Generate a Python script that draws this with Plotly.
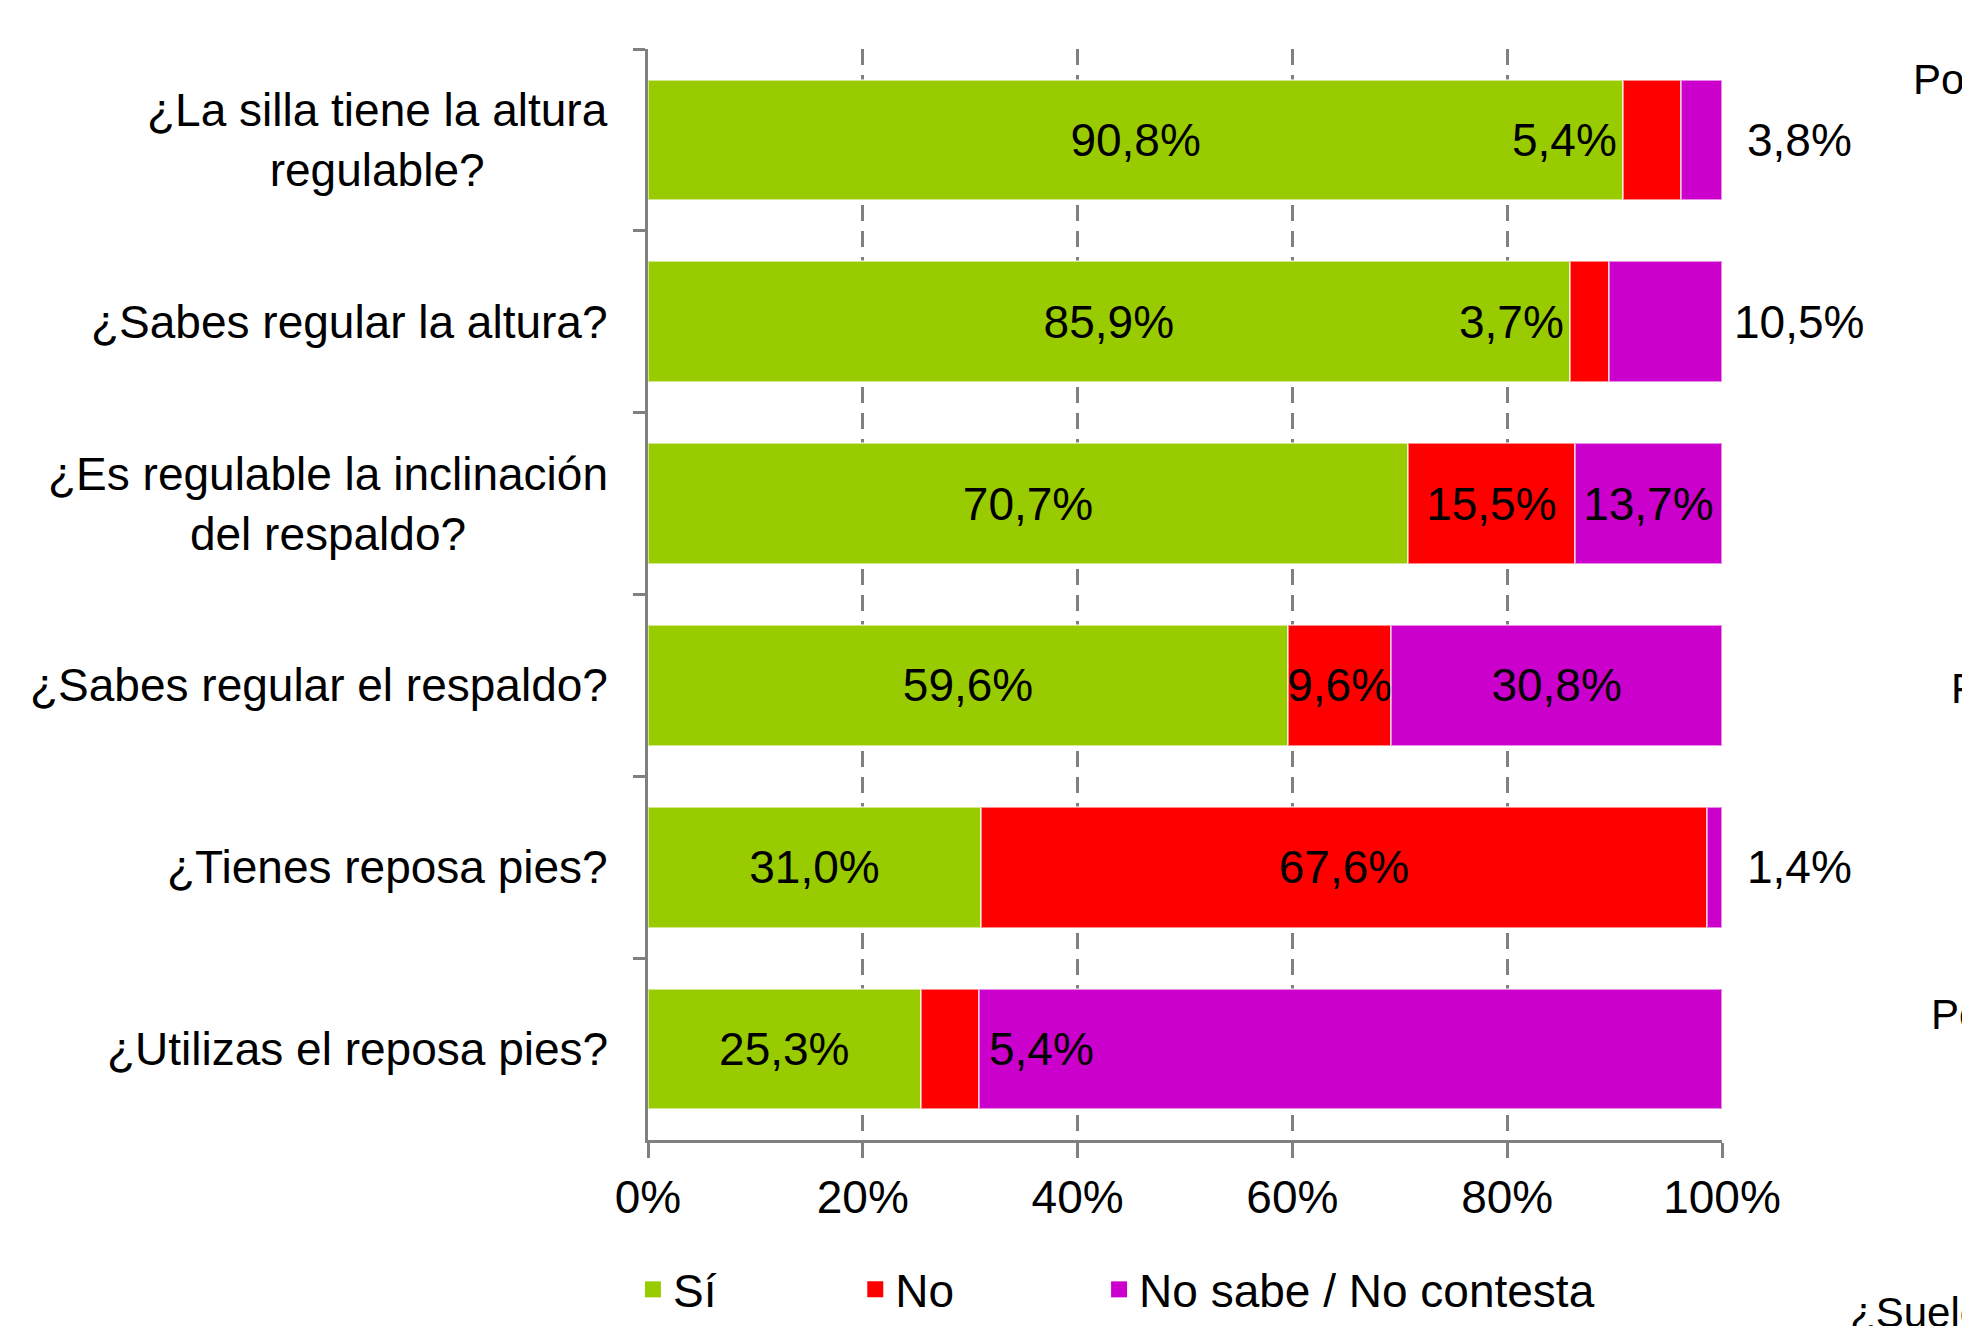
import plotly.graph_objects as go

# ---- data ----
categories = [
    "¿La silla tiene la altura<br>regulable?",
    "¿Sabes regular la altura?",
    "¿Es regulable la inclinación<br>del respaldo?",
    "¿Sabes regular el respaldo?",
    "¿Tienes reposa pies?",
    "¿Utilizas el reposa pies?",
]
si_vals = [90.8, 85.9, 70.7, 59.6, 31.0, 25.3]
no_vals = [5.4, 3.7, 15.5, 9.6, 67.6, 5.4]
ns_vals = [3.8, 10.5, 13.7, 30.8, 1.4, 69.0]
series_names = ["Sí", "No", "No sabe / No contesta"]
colors = ["#99CC00", "#FF0000", "#CC00CC"]
x_ticks = [0, 20, 40, 60, 80, 100]
x_ticktext = ["0%", "20%", "40%", "60%", "80%", "100%"]

# labels placed next to (not inside) their segment
no_left_of_segment = [0, 1]     # label drawn just left of the red segment
no_right_of_segment = [5]       # label drawn just right of the red segment
ns_outside = [0, 1, 4]          # label drawn outside, right of the bar

FONT = "Liberation Sans, Arial, sans-serif"
FS = 46


def fmt(v):
    return f"{v:.1f}".replace(".", ",") + "%"


totals = [a + b + c for a, b, c in zip(si_vals, no_vals, ns_vals)]
si_n = [v / t * 100 for v, t in zip(si_vals, totals)]
no_n = [v / t * 100 for v, t in zip(no_vals, totals)]

fig = go.Figure()

text_si = [fmt(v) for v in si_vals]
text_no = ["" if i in no_left_of_segment + no_right_of_segment else fmt(v) for i, v in enumerate(no_vals)]
text_ns = ["" if i in ns_outside else fmt(v) for i, v in enumerate(ns_vals)]

for name, vals, txt, col in zip(series_names, [si_vals, no_vals, ns_vals], [text_si, text_no, text_ns], colors):
    fig.add_trace(go.Bar(
        y=categories, x=vals, name=name, orientation="h",
        marker=dict(color=col, line=dict(color="rgba(255,255,255,0.55)", width=2)),
        text=txt, textposition="inside", insidetextanchor="middle",
        constraintext="none", textangle=0,
        insidetextfont=dict(family=FONT, size=FS, color="black"),
        showlegend=False, hoverinfo="skip", cliponaxis=False,
    ))

# legend entries, one legend each so they can be spaced like the original
legend_ids = ["legend", "legend2", "legend3"]
legend_x = [-0.014, 0.193, 0.42]
for name, col, lid in zip(series_names, colors, legend_ids):
    fig.add_trace(go.Scatter(
        x=[None], y=[None], mode="markers", name=name, legend=lid,
        marker=dict(symbol="square", size=24, color=col),
    ))

annotations = []
# category labels (centered lines, block right-aligned to the axis)
for c in categories:
    annotations.append(dict(
        x=0, xref="paper", y=c, yref="y", text=c, showarrow=False,
        xanchor="right", yanchor="middle", align="center", xshift=-38,
        font=dict(family=FONT, size=FS, color="black"),
    ))
for i in no_left_of_segment:
    annotations.append(dict(
        x=si_n[i], y=categories[i], text=fmt(no_vals[i]), showarrow=False,
        xanchor="right", yanchor="middle", xshift=-4,
        font=dict(family=FONT, size=FS, color="black"),
    ))
for i in no_right_of_segment:
    annotations.append(dict(
        x=si_n[i] + no_n[i], y=categories[i], text=fmt(no_vals[i]), showarrow=False,
        xanchor="left", yanchor="middle", xshift=8,
        font=dict(family=FONT, size=FS, color="black"),
    ))
for i in ns_outside:
    annotations.append(dict(
        x=100, y=categories[i], text=fmt(ns_vals[i]), showarrow=False,
        xanchor="center", yanchor="middle", xshift=77,
        font=dict(family=FONT, size=FS, color="black"),
    ))

# cut-off fragments of neighbouring text at the right / bottom edge
for txt, xp, yp in [("Pos", 1.176, 0.972), ("P", 1.211, 0.414), ("Po", 1.193, 0.115), ("¿Suele", 1.117, -0.158)]:
    annotations.append(dict(
        x=xp, xref="paper", y=yp, yref="paper", text=txt, showarrow=False,
        xanchor="left", yanchor="middle",
        font=dict(family=FONT, size=42, color="black"),
    ))

legend_common = dict(
    orientation="h", xanchor="left", y=-0.137, yanchor="middle",
    font=dict(family=FONT, size=FS, color="black"),
    bgcolor="rgba(0,0,0,0)", itemclick=False, itemdoubleclick=False,
)

# page body has an 8px default margin -> figure is 8px smaller and margins shifted
fig.update_layout(
    width=1962, height=1318, autosize=False,
    margin=dict(l=640, r=248, t=41, b=186, autoexpand=False),
    paper_bgcolor="white", plot_bgcolor="white",
    barmode="stack", barnorm="percent", bargap=0.337,
    font=dict(family=FONT, size=FS, color="black"),
    annotations=annotations,
    legend=dict(x=legend_x[0], **legend_common),
    legend2=dict(x=legend_x[1], **legend_common),
    legend3=dict(x=legend_x[2], **legend_common),
    xaxis=dict(
        range=[0, 100], tickvals=x_ticks, ticktext=x_ticktext,
        showgrid=True, gridcolor="#808080", gridwidth=3, griddash="16px,10px",
        zeroline=False, showline=True, linecolor="#808080", linewidth=3,
        ticks="outside", ticklen=15, tickwidth=3, tickcolor="#808080",
        tickfont=dict(family=FONT, size=FS, color="black"),
        fixedrange=True,
    ),
    yaxis=dict(
        type="category", categoryorder="array", categoryarray=categories,
        range=[5.5, -0.5], showgrid=False, zeroline=False,
        showline=True, linecolor="#808080", linewidth=3,
        ticks="outside", tickson="boundaries", ticklen=12, tickwidth=3, tickcolor="#808080",
        showticklabels=False, fixedrange=True,
    ),
)

fig.write_html("out.html")
